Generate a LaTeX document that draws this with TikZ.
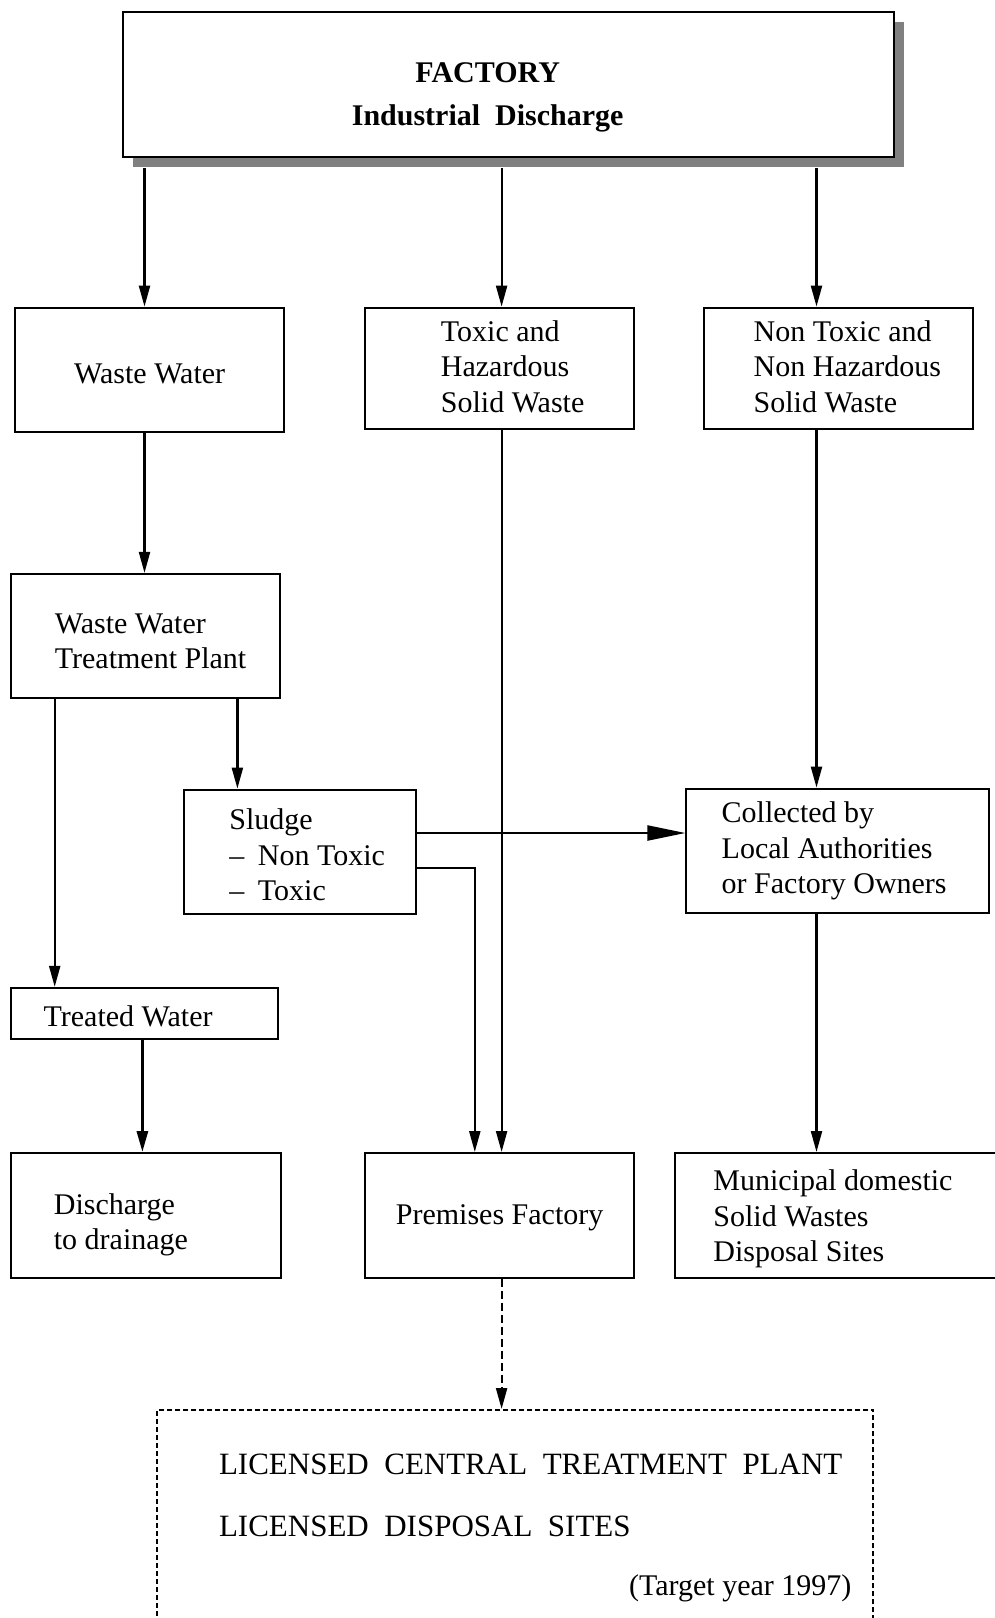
\documentclass[tikz,border=0pt]{standalone}
\usepackage{fontspec}
\setmainfont{Liberation Serif}
\usetikzlibrary{arrows.meta,shadows}
\begin{document}
\begin{tikzpicture}[x=1pt,y=-1pt,
  font=\fontsize{30}{35.6}\selectfont,
  box/.style={draw, line width=2pt, rectangle, inner sep=0pt, fill=white},
  lbl/.style={inner sep=0pt, align=left},
  ln/.style={line width=2.2pt},
  arr/.style={line width=2.2pt, -{Triangle[length=21pt,width=11pt]}},
  bigarr/.style={line width=2.2pt, -{Triangle[length=38pt,width=15pt]}},
  dashbox/.style={draw, line width=2pt, dash pattern=on 5pt off 3pt, inner sep=0pt}]
\useasboundingbox (0,0) rectangle (994,1618);

% boxes
\node[box, minimum width=771.1, minimum height=144.5,
  drop shadow={shadow xshift=10pt, shadow yshift=-10pt, fill=black!50, opacity=1}] (fac) at (508.35,84.65) {};
\node[lbl, align=center, font=\fontsize{30}{43}\selectfont\bfseries] (facl) at (487.7,97) {FACTORY\\Industrial\hspace{0.5em}Discharge};

\node[box, minimum width=269.4, minimum height=123.9] (ww) at (149.2,369.55) {};
\node[box, minimum width=268.4, minimum height=121.8] (tox) at (499.6,368.5) {};
\node[box, minimum width=269.4, minimum height=121.8] (ntx) at (838.7,368.5) {};
\node[box, minimum width=268.3, minimum height=123.9] (wwtp) at (145.55,635.85) {};
\node[box, minimum width=232.3, minimum height=123.9] (sl) at (299.85,851.55) {};
\node[box, minimum width=302.4, minimum height=123.9] (col) at (837.6,850.55) {};
\node[box, minimum width=266.3, minimum height=51.6] (tw) at (144.55,1013.6) {};
\node[box, minimum width=269.4, minimum height=124.9] (dis) at (146.1,1215.45) {};
\node[box, minimum width=268.4, minimum height=124.9] (pre) at (499.6,1215.45) {};
\node[box, minimum width=325, minimum height=124.9] (mun) at (837.5,1215.45) {};
\node[dashbox, minimum width=716.3, minimum height=230] (lic) at (515.05,1525) {};

% texts
\node[lbl] (wwl) at (149.7,373.5) {Waste Water};
\node[lbl, anchor=west] (toxl) at (440.7,366.5) {Toxic and\\Hazardous\\Solid Waste};
\node[lbl, anchor=west] (ntxl) at (753.5,366.5) {Non Toxic and\\Non Hazardous\\Solid Waste};
\node[lbl, anchor=west] (wwtpl) at (54.7,641.5) {Waste Water\\Treatment Plant};
\node[lbl, anchor=west] (sll) at (229.2,855) {Sludge\\--\hspace{0.45em}Non Toxic\\--\hspace{0.45em}Toxic};
\node[lbl, anchor=west] (coll) at (721.5,851) {Collected by\\Local Authorities\\or Factory Owners};
\node[lbl, anchor=west] (twl) at (43.4,1016.5) {Treated Water};
\node[lbl, anchor=west] (disl) at (53.7,1225) {Discharge\\to drainage};
\node[lbl] (prel) at (499.6,1217.5) {Premises Factory};
\node[lbl, anchor=west] (munl) at (713.2,1219) {Municipal domestic\\Solid Wastes\\Disposal Sites};
\node[lbl, anchor=west, font=\fontsize{31}{36}\selectfont] (lic1) at (218.8,1464.5) {LICENSED\hspace{0.5em}CENTRAL\hspace{0.5em}TREATMENT\hspace{0.5em}PLANT};
\node[lbl, anchor=west, font=\fontsize{31}{36}\selectfont] (lic2) at (218.8,1526.5) {LICENSED\hspace{0.5em}DISPOSAL\hspace{0.5em}SITES};
\node[lbl, anchor=east] (lic3) at (851.6,1588.5) {(Target year 1997)};

% x / y guide coordinates
\coordinate (xA) at (144.5,0);
\coordinate (xB) at (501.6,0);
\coordinate (xC) at (816.5,0);
\coordinate (xD) at (54.7,0);
\coordinate (xE) at (237.4,0);
\coordinate (xF) at (142.4,0);
\coordinate (yG) at (0,833);
\coordinate (yH) at (0,868);
\coordinate (xH) at (474.8,0);

% connectors
\draw[arr] ([yshift=-10.5pt]fac.south -| xA) -- (ww.north -| xA);
\draw[arr] ([yshift=-10.5pt]fac.south -| xB) -- (tox.north -| xB);
\draw[arr] ([yshift=-10.5pt]fac.south -| xC) -- (ntx.north -| xC);
\draw[arr] (ww.south -| xA) -- (wwtp.north -| xA);
\draw[arr] (tox.south -| xB) -- (pre.north -| xB);
\draw[arr] (ntx.south -| xC) -- (col.north -| xC);
\draw[arr] (wwtp.south -| xD) -- (tw.north -| xD);
\draw[arr] (wwtp.south -| xE) -- (sl.north -| xE);
\draw[bigarr] (sl.east |- yG) -- (col.west |- yG);
\draw[arr] (sl.east |- yH) -| (pre.north -| xH);
\draw[arr, line width=3pt] (tw.south -| xF) -- (dis.north -| xF);
\draw[arr] (col.south -| xC) -- (mun.north -| xC);
\draw[arr, dash pattern=on 8pt off 4pt] (pre.south -| xB) -- (lic.north -| xB);
\end{tikzpicture}
\end{document}
